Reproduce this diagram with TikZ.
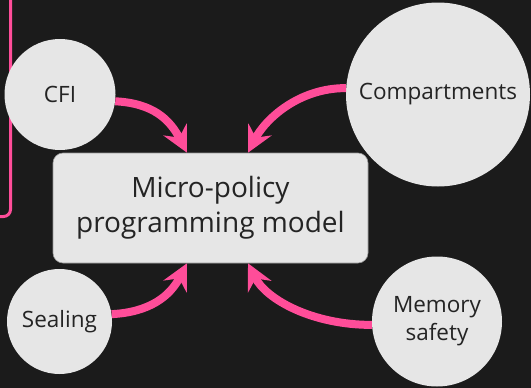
\documentclass[tikz,border=0pt]{standalone}
\usepackage{fontspec}
\setmainfont{Open Sans}
\usetikzlibrary{arrows.meta}
\definecolor{bgc}{HTML}{1B1B1B}
\definecolor{bubble}{HTML}{E6E6E6}
\definecolor{ink}{HTML}{242424}
\definecolor{hotpink}{HTML}{FF4D99}
\tikzset{
  bubbletext/.style={font=\fontsize{22.5}{28}\selectfont, text=ink, align=center},
  topic/.style={circle, fill=bubble, inner sep=0pt, bubbletext},
  core/.style={rectangle, rounded corners=10pt, fill=bubble, draw=black!40, line width=0.6pt,
    minimum width=315pt, minimum height=110pt, inner sep=0pt, align=center, text=ink,
    font=\fontsize{28}{35}\selectfont},
  flow/.style={-{Stealth[length=26pt,width=26pt,inset=9pt]}, line width=8pt, draw=hotpink}
}
\begin{document}
\begin{tikzpicture}[x=1pt, y=-1pt]
  \useasboundingbox (0,0) rectangle (531,388);
  \fill[bgc] (0,0) rectangle (531,388);

  % corner of a frame that runs off the left and top edges
  \begin{scope}
    \clip (0,0) rectangle (531,388);
    \draw[hotpink, line width=3pt, rounded corners=7pt] (10.5,-10) -- (10.5,216.5) -- (-10,216.5);
  \end{scope}

  \node[core] (model) at (210.5,208) {Micro-policy\\programming model};

  \node[topic, minimum size=111pt] (cfi) at (60,94.5) {CFI};
  \node[topic, minimum size=184pt] (comp) at (438,94.5) {Compartments};
  \node[topic, minimum size=105pt] (seal) at (59.5,321.5) {Sealing};
  \node[topic, minimum size=130pt] (mem) at (437,321.5) {Memory\\safety};

  \coordinate (inTL) at ([xshift=-23.5pt]model.north);
  \coordinate (inTR) at ([xshift=37.5pt]model.north);
  \coordinate (inBL) at ([xshift=-23.5pt]model.south);
  \coordinate (inBR) at ([xshift=37.5pt]model.south);

  \draw[flow] (cfi.-7) .. controls +(38,2) and +(-17,-33) .. (inTL);
  \draw[flow] (comp.176.6) .. controls +(-48,0) and +(17,-33) .. (inTR);
  \draw[flow] (seal.8) .. controls +(38,-2) and +(-17,33) .. (inBL);
  \draw[flow] (mem.183.1) .. controls +(-60,0) and +(18,36) .. (inBR);
\end{tikzpicture}
\end{document}
